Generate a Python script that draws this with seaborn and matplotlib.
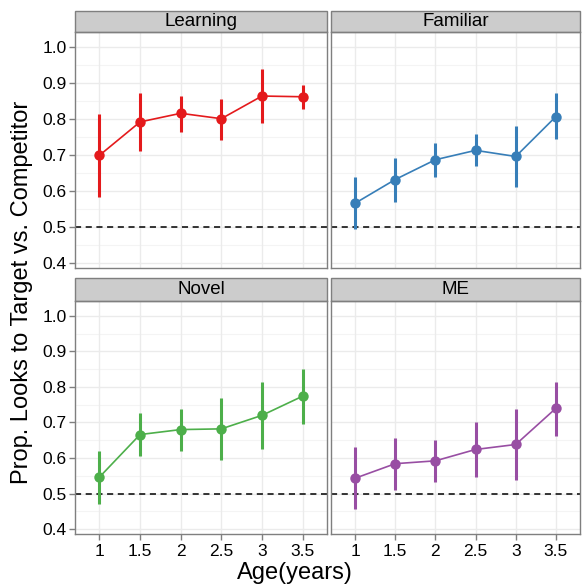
import numpy as np
import pandas as pd
import seaborn as sns
import matplotlib
matplotlib.use('Agg')
from matplotlib import pyplot as plt
from matplotlib.patches import Rectangle
from matplotlib.ticker import MultipleLocator, FormatStrFormatter, FuncFormatter

ages = [1, 1.5, 2, 2.5, 3, 3.5]
conditions = ['Learning', 'Familiar', 'Novel', 'ME']
colors = ['#E41A1C', '#377EB8', '#4DAF4A', '#984EA3']

learning = [0.699, 0.792, 0.816, 0.801, 0.864, 0.862]
learning_lo = [0.583, 0.712, 0.764, 0.743, 0.788, 0.829]
learning_hi = [0.815, 0.873, 0.865, 0.857, 0.939, 0.895]

familiar = [0.566, 0.632, 0.687, 0.713, 0.696, 0.807]
familiar_lo = [0.494, 0.569, 0.640, 0.669, 0.610, 0.744]
familiar_hi = [0.638, 0.693, 0.734, 0.759, 0.781, 0.872]

novel = [0.546, 0.666, 0.680, 0.682, 0.720, 0.774]
novel_lo = [0.471, 0.606, 0.619, 0.595, 0.625, 0.695]
novel_hi = [0.620, 0.727, 0.739, 0.770, 0.814, 0.850]

me = [0.543, 0.584, 0.592, 0.624, 0.638, 0.740]
me_lo = [0.457, 0.510, 0.531, 0.547, 0.539, 0.663]
me_hi = [0.630, 0.657, 0.651, 0.700, 0.739, 0.815]

means = [learning, familiar, novel, me]
los = [learning_lo, familiar_lo, novel_lo, me_lo]
his = [learning_hi, familiar_hi, novel_hi, me_hi]

rows = []
for c, m, lo, hi in zip(conditions, means, los, his):
    for a, v, l, h in zip(ages, m, lo, hi):
        rows.append({'condition': c, 'age': a, 'prop': v, 'lo': l, 'hi': h})
df = pd.DataFrame(rows)

sns.set_style('white')
plt.rcParams['font.family'] = ['Liberation Sans', 'DejaVu Sans']
plt.rcParams['text.color'] = 'black'

g = sns.FacetGrid(df, col='condition', col_wrap=2, hue='condition',
                  palette=colors, col_order=conditions, hue_order=conditions,
                  sharex=True, sharey=True)
g.figure.set_size_inches(5.82, 5.86)


def draw(data, color, **kw):
    ax = plt.gca()
    ax.vlines(data['age'], data['lo'], data['hi'], color=color, lw=2.2, zorder=3)
    sns.lineplot(data=data, x='age', y='prop', color=color, lw=1.2,
                 marker='o', markersize=7.5, markeredgewidth=0, ax=ax, zorder=4)


g.map_dataframe(draw)

W, H = 582, 586
pos = {
    'Learning': (75, 32, 327, 268),
    'Familiar': (331, 32, 580, 268),
    'Novel': (75, 301, 327, 534),
    'ME': (331, 301, 580, 534),
}
strip_h = {'Learning': 21, 'Familiar': 21, 'Novel': 23, 'ME': 23}

xfmt = FuncFormatter(lambda v, p: ('%g' % round(v, 2)))

for i, (cond, ax) in enumerate(zip(conditions, g.axes.flat)):
    x0, y0, x1, y1 = pos[cond]
    ax.set_position([x0 / W, (H - y1) / H, (x1 - x0) / W, (y1 - y0) / H])
    ax.set_xlim(0.7, 3.8)
    ax.set_ylim(0.386, 1.042)
    ax.set_title('')
    ax.set_xlabel('')
    ax.set_ylabel('')
    ax.xaxis.set_major_locator(MultipleLocator(0.5))
    ax.xaxis.set_major_formatter(xfmt)
    ax.yaxis.set_major_locator(MultipleLocator(0.1))
    ax.yaxis.set_major_formatter(FormatStrFormatter('%.1f'))
    ax.grid(True, which='major', color='#EBEBEB', lw=1.0, zorder=0)
    for yv in [0.45, 0.55, 0.65, 0.75, 0.85, 0.95]:
        ax.axhline(yv, color='#F4F4F4', lw=0.8, zorder=0)
    ax.set_axisbelow(True)
    ax.axhline(0.5, color='black', ls=(0, (4, 3)), lw=1.1, zorder=2)
    for s in ax.spines.values():
        s.set_visible(True)
        s.set_color('#7F7F7F')
        s.set_linewidth(1.0)
    left = i % 2 == 0
    bottom = i >= 2
    ax.tick_params(axis='y', left=left, labelleft=left, length=4, width=1,
                   color='#7F7F7F', labelcolor='black', labelsize=12.5, pad=2)
    ax.tick_params(axis='x', bottom=bottom, labelbottom=bottom, length=4,
                   width=1, color='#7F7F7F', labelcolor='black',
                   labelsize=12.5, pad=3)
    sh = strip_h[cond] / (y1 - y0)
    rect = Rectangle((0, 1), 1, sh, transform=ax.transAxes, clip_on=False,
                     facecolor='#CCCCCC', edgecolor='#7F7F7F', lw=1.0)
    ax.add_patch(rect)
    ax.text(0.5, 1 + sh / 2, cond, transform=ax.transAxes, ha='center',
            va='center', fontsize=13.5, color='black')

g.figure.text(22 / W, (H - 292) / H, 'Prop. Looks to Target vs. Competitor',
              rotation=90, ha='center', va='center', fontsize=17, color='black')
g.figure.text(295 / W, 13 / H, 'Age(years)', ha='center', va='center',
              fontsize=17, color='black')

g.figure.savefig('out.png', dpi=100)
